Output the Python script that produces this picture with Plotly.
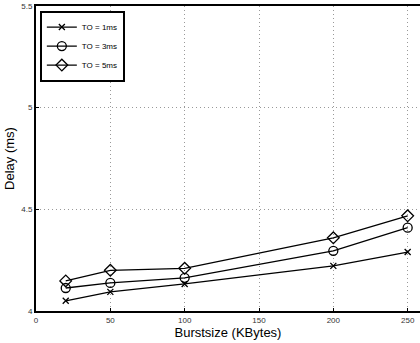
import plotly.graph_objects as go

burst = [20, 50, 100, 200, 250]
to1 = [4.05, 4.094, 4.133, 4.222, 4.29]
to3 = [4.113, 4.138, 4.163, 4.296, 4.41]
to5 = [4.148, 4.20, 4.21, 4.36, 4.468]
names = ["TO = 1ms", "TO = 3ms", "TO = 5ms"]
symbols = ["x-thin-open", "circle-open", "diamond-open"]
x_ticks = [0, 50, 100, 150, 200, 250]
y_ticks = [4, 4.5, 5, 5.5]

fig = go.Figure()
for ys, nm, sym in zip([to1, to3, to5], names, symbols):
    fig.add_trace(go.Scatter(
        x=burst, y=ys, name=nm, mode="lines+markers",
        line=dict(color="black", width=1.3),
        marker=dict(symbol=sym, size=9 if sym != "x-thin-open" else 6,
                    color="black", line=dict(color="black", width=1.3)),
    ))

font = "Liberation Sans, Arial, sans-serif"
grid = dict(showgrid=True, gridcolor="#999999", griddash="1px,3px", gridwidth=1)
fig.update_layout(
    width=420, height=343,
    margin=dict(l=36, r=0, t=6, b=32),
    paper_bgcolor="white", plot_bgcolor="white",
    font=dict(family=font, color="black"),
    showlegend=True,
    legend=dict(x=0.01, y=0.985, xanchor="left", yanchor="top",
                bgcolor="white", bordercolor="black", borderwidth=2,
                font=dict(size=8, family=font), tracegroupgap=0,
                itemwidth=30),
    xaxis=dict(range=[0, 258.3], tickvals=x_ticks, ticktext=[str(v) for v in x_ticks],
               **grid, automargin=False,
               showline=True, linecolor="black", linewidth=2, mirror=True,
               ticks="inside", ticklen=3, tickcolor="black",
               tickfont=dict(size=8, color="#333333"), zeroline=False,
               title=dict(text="Burstsize (KBytes)", font=dict(size=13), standoff=2)),
    yaxis=dict(range=[4, 5.5], tickvals=y_ticks, ticktext=["4", "4.5", "5", "5.5"],
               **grid, automargin=False,
               showline=True, linecolor="black", linewidth=2,
               ticks="inside", ticklen=3, tickcolor="black",
               tickfont=dict(size=8, color="#333333"), zeroline=False,
               title=dict(text="Delay (ms)", font=dict(size=13), standoff=4)),
)
fig.write_html("out.html", config={"displayModeBar": False},
               post_script="document.body.style.margin='0';document.body.style.overflow='hidden';")
